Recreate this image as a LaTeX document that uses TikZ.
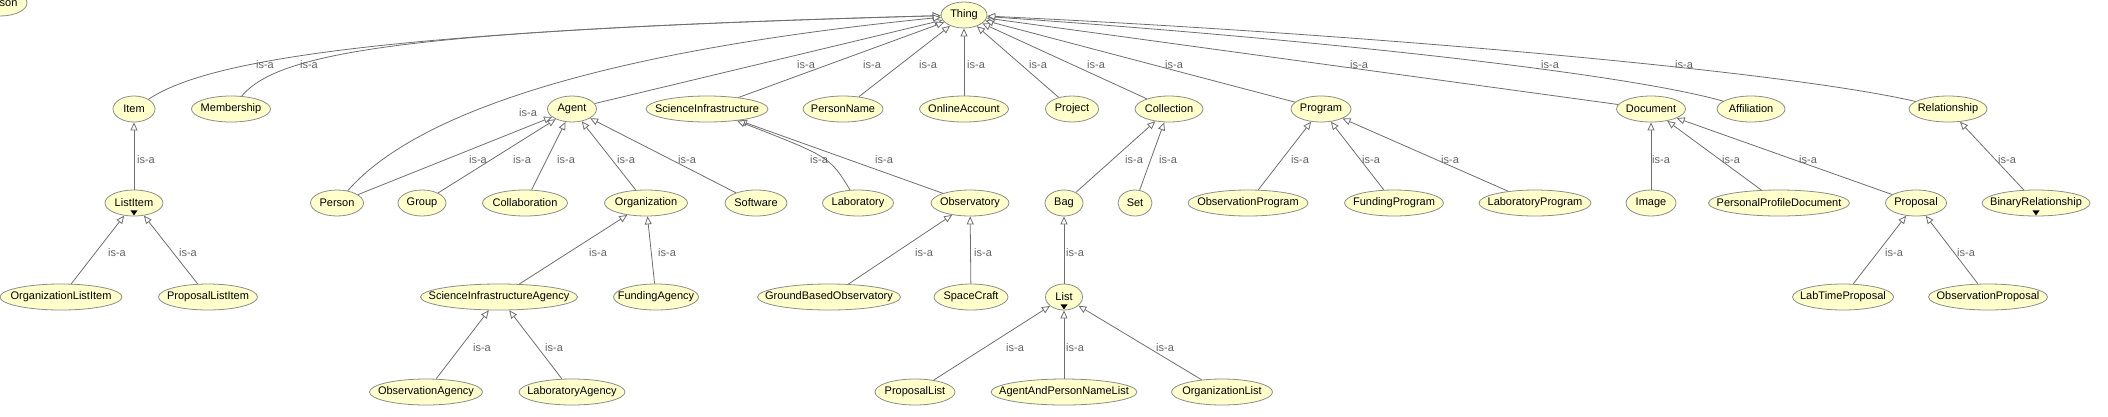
\documentclass[tikz,border=0pt]{standalone}
\usepackage{fontspec}
\setmainfont{Liberation Sans}
\usepackage{tikz}
\usetikzlibrary{arrows.meta}
\usetikzlibrary{shapes.geometric}
\usepackage{xcolor}
\definecolor{nodefill}{RGB}{255,255,204}
\definecolor{nodeline}{RGB}{140,140,140}
\definecolor{edgeline}{RGB}{110,110,110}
\definecolor{lblgray}{RGB}{100,100,100}

\begin{document}
\begin{tikzpicture}[
			x=1pt, y=-1pt,
			cls/.style={ellipse, draw=nodeline, fill=nodefill, line width=0.8pt,
					minimum height=26, inner sep=0pt, font=\fontsize{11}{13}\selectfont,
					execute at begin node={\hbox to 0pt\bgroup\hss},
					execute at end node={\hss\egroup}},
			isa/.style={draw=edgeline, line width=0.8pt,
					-{Triangle[length=8pt, width=7pt, fill=white]}},
			lbl/.style={text=lblgray, inner sep=0pt, font=\fontsize{11}{13}\selectfont}
		]
		\useasboundingbox (0,0) rectangle (2108,416);

		% top
		\node[cls, minimum width=54] (stray) at (0,3) {Person};
		\node[cls, minimum width=46] (thing) at (964,15) {Thing};

		% second row
		\node[cls, minimum width=42] (item) at (134,109) {Item};
		\node[cls, minimum width=79] (membership) at (231,109) {Membership};
		\node[cls, minimum width=49] (agent) at (572,109) {Agent};
		\node[cls, minimum width=122] (sciinfra) at (707,109) {ScienceInfrastructure};
		\node[cls, minimum width=80] (personname) at (843,109) {PersonName};
		\node[cls, minimum width=89] (onlineaccount) at (964,109) {OnlineAccount};
		\node[cls, minimum width=53] (project) at (1072,109) {Project};
		\node[cls, minimum width=68] (collection) at (1169,109) {Collection};
		\node[cls, minimum width=60] (program) at (1321,109) {Program};
		\node[cls, minimum width=69] (document) at (1651,109) {Document};
		\node[cls, minimum width=68] (affiliation) at (1751,109) {Affiliation};
		\node[cls, minimum width=78] (relationship) at (1948,109) {Relationship};

		% third row
		\node[cls, minimum width=58] (listitem) at (134,203) {ListItem};
		\node[cls, minimum width=53] (person) at (337,203) {Person};
		\node[cls, minimum width=48] (group) at (422,203) {Group};
		\node[cls, minimum width=85] (collaboration) at (525,203) {Collaboration};
		\node[cls, minimum width=83] (organization) at (646,203) {Organization};
		\node[cls, minimum width=62] (software) at (756,203) {Software};
		\node[cls, minimum width=71] (laboratory) at (858,203) {Laboratory};
		\node[cls, minimum width=78] (observatory) at (970,203) {Observatory};
		\node[cls, minimum width=38] (bag) at (1064,203) {Bag};
		\node[cls, minimum width=34] (set) at (1135,203) {Set};
		\node[cls, minimum width=120] (obsprogram) at (1248,203) {ObservationProgram};
		\node[cls, minimum width=99] (fundprogram) at (1394,203) {FundingProgram};
		\node[cls, minimum width=112] (labprogram) at (1535,203) {LaboratoryProgram};
		\node[cls, minimum width=50] (image) at (1651,203) {Image};
		\node[cls, minimum width=141] (ppd) at (1779,203) {PersonalProfileDocument};
		\node[cls, minimum width=61] (proposal) at (1916,203) {Proposal};
		\node[cls, minimum width=108] (binrel) at (2036,203) {BinaryRelationship};

		% fourth row
		\node[cls, minimum width=122] (orglistitem) at (61,297) {OrganizationListItem};
		\node[cls, minimum width=99] (proplistitem) at (208,297) {ProposalListItem};
		\node[cls, minimum width=157] (sciagency) at (499,297) {ScienceInfrastructureAgency};
		\node[cls, minimum width=85] (fundagency) at (656,297) {FundingAgency};
		\node[cls, minimum width=143] (groundobs) at (829,297) {GroundBasedObservatory};
		\node[cls, minimum width=74] (spacecraft) at (971,297) {SpaceCraft};
		\node[cls, minimum width=37] (list) at (1064,297) {List};
		\node[cls, minimum width=101] (labtime) at (1843,297) {LabTimeProposal};
		\node[cls, minimum width=119] (obsproposal) at (1988,297) {ObservationProposal};

		% fifth row
		\node[cls, minimum width=113] (obsagency) at (426,392) {ObservationAgency};
		\node[cls, minimum width=106] (labagency) at (572,392) {LaboratoryAgency};
		\node[cls, minimum width=80] (proposallist) at (915,392) {ProposalList};
		\node[cls, minimum width=146] (apnlist) at (1064,392) {AgentAndPersonNameList};
		\node[cls, minimum width=101] (orglist) at (1222,392) {OrganizationList};

		% markers for folded subclasses
		\foreach \n in {listitem, list, binrel}
		\fill ([xshift=-3.5pt, yshift=6pt]\n.south) -- ++(7,0) -- ++(-3.5,5) -- cycle;

		% straight is-a edges
		\foreach \a/\b in {agent/thing, sciinfra/thing, personname/thing, onlineaccount/thing,
				project/thing, collection/thing, program/thing, document/thing,
				listitem/item, orglistitem/listitem, proplistitem/listitem,
				person/agent, group/agent, collaboration/agent, organization/agent, software/agent,
				sciagency/organization, fundagency/organization,
				obsagency/sciagency, labagency/sciagency,
				observatory/sciinfra, groundobs/observatory, spacecraft/observatory,
				bag/collection, set/collection, list/bag,
				proposallist/list, apnlist/list, orglist/list,
				obsprogram/program, fundprogram/program, labprogram/program,
				image/document, ppd/document, proposal/document,
				labtime/proposal, obsproposal/proposal, binrel/relationship}
		\draw[isa] (\a) -- (\b);

		% curved is-a edges
		\draw[isa] (item) .. controls (210,58) and (400,30) .. (thing);
		\draw[isa] (membership) .. controls (280,50) and (420,30) .. (thing);
		\draw[isa] (person) .. controls (405,125) and (560,55) .. (thing);
		\draw[isa] (affiliation) .. controls (1620,72) and (1300,38) .. (thing);
		\draw[isa] (relationship) .. controls (1780,70) and (1350,33) .. (thing);
		\draw[isa] (laboratory) .. controls (830,157) .. (sciinfra);

		% edge labels
		\foreach \x/\y [count=\i] in {265/65, 309/65, 806/65, 872/65, 928/65, 976/65,
				1038/65, 1096/65, 1174/65, 1359/65, 1550/65, 1684/65, 528/113,
				146/160, 478/160, 522/160, 566/160, 626/160, 687/160, 819/160, 884/160,
				1134/160, 1168/160, 1300/160, 1371/160, 1450/160, 1661/160, 1731/160,
				1808/160, 2007/160,
				117/253, 188/253, 598/253, 667/253, 924/253, 983/253, 1075/253,
				1894/253, 1966/253,
				482/348, 554/348, 1015/348, 1075/348, 1165/348}
		\node[lbl] (isa\i) at (\x,\y) {is-a};
	\end{tikzpicture}
\end{document}
